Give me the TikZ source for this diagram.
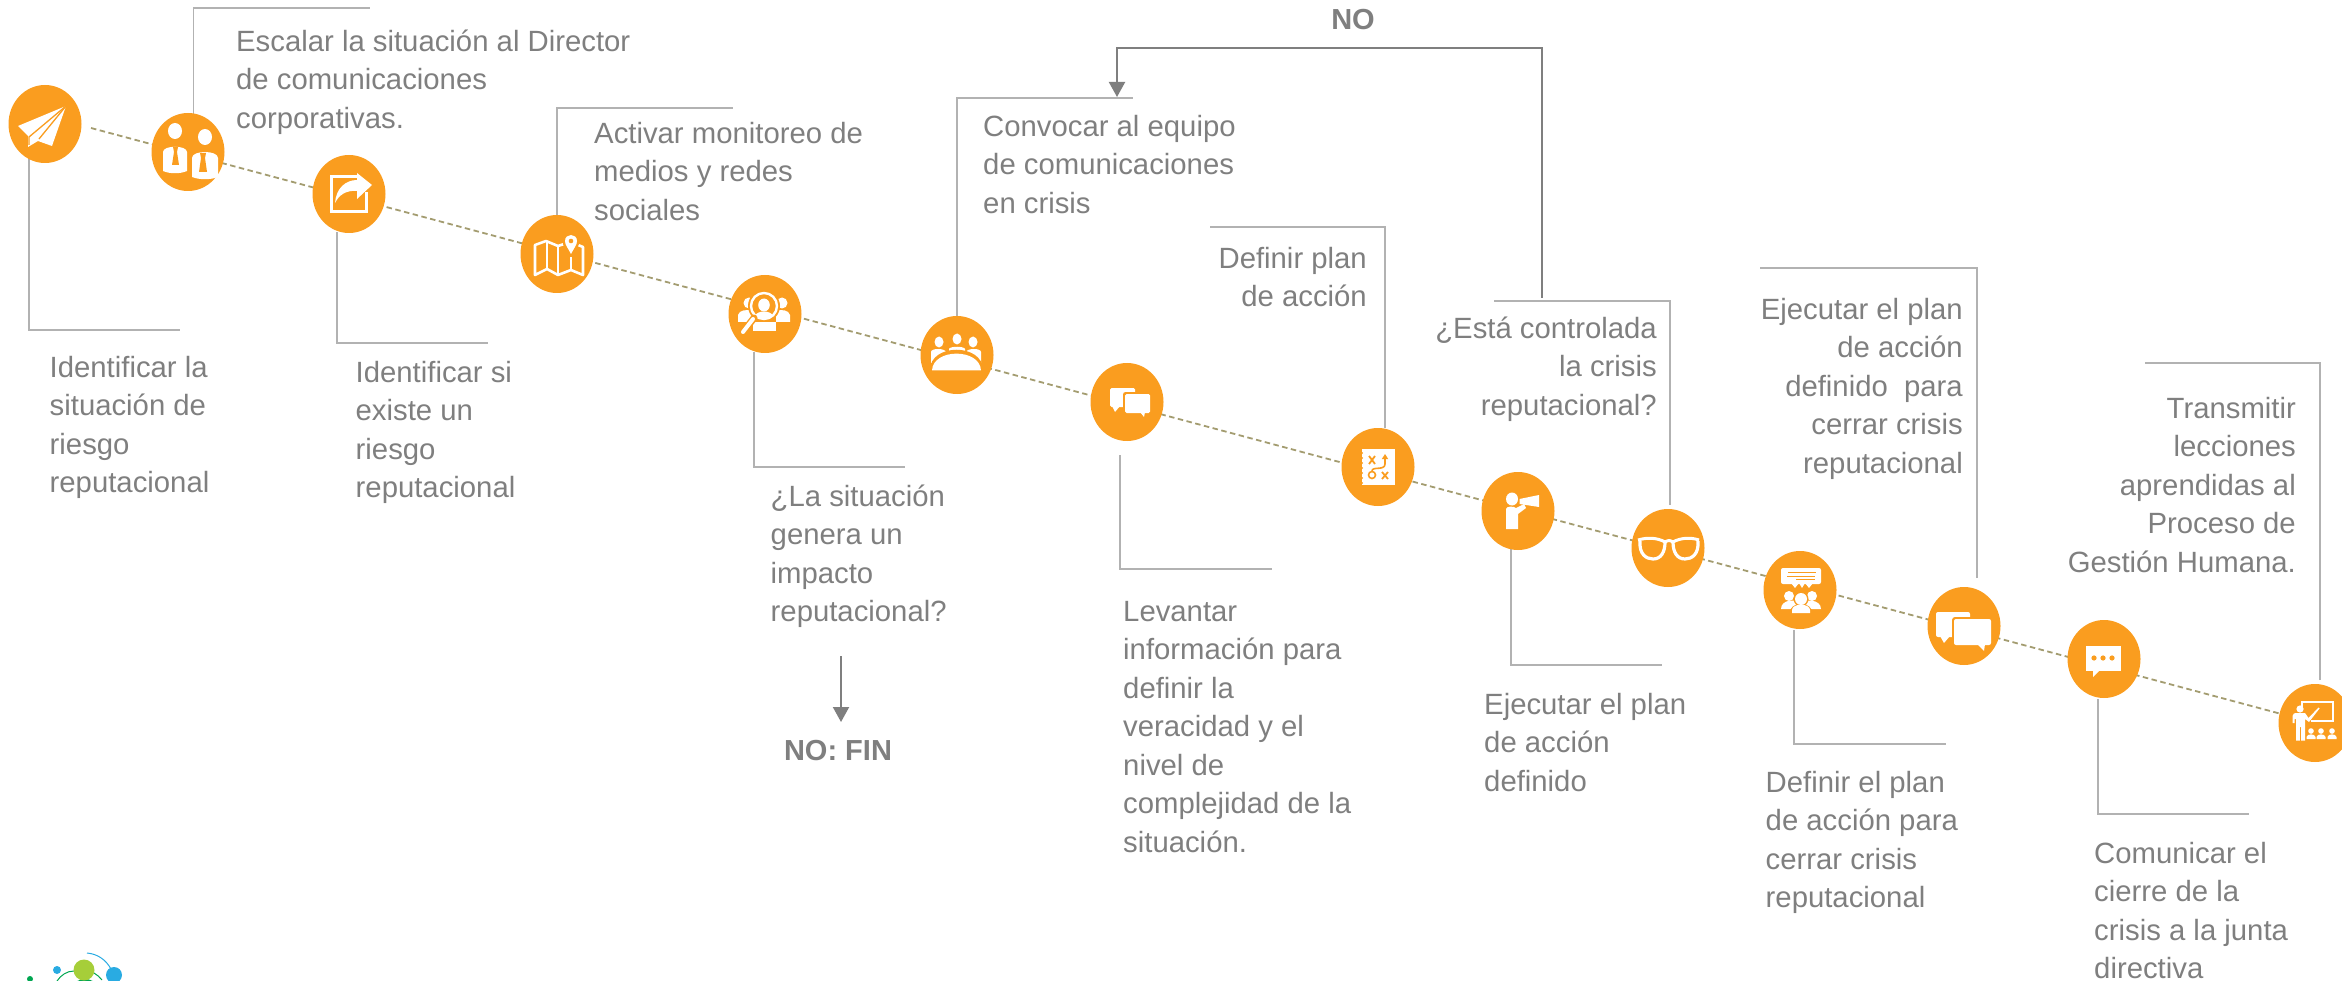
\documentclass[tikz,border=0pt]{standalone}
\usepackage{fontspec}
\setmainfont{Liberation Sans}
\usetikzlibrary{shapes.geometric,arrows.meta,backgrounds}
\definecolor{orng}{HTML}{FA9D1F}
\definecolor{ltext}{HTML}{7F7F7F}
\definecolor{leaderc}{HTML}{B2B2B2}
\definecolor{dashc}{HTML}{A39C70}
\definecolor{arrowc}{HTML}{7F7F7F}
\definecolor{lgreen}{HTML}{A6CE39}
\definecolor{dgreen}{HTML}{00A651}
\definecolor{lblue}{HTML}{29ABE2}
\newcommand\fl{\rule{0pt}{24pt}}
\tikzset{
  stepdot/.style={ellipse,fill=orng,draw=none,minimum width=73pt,minimum height=78pt,inner sep=0pt},
  txt/.style={text=ltext,inner sep=0pt,font=\fontsize{29.3}{38.5}\selectfont},
  txl/.style={txt,anchor=north west,align=left},
  txr/.style={txt,anchor=north east,align=right},
  txb/.style={text=ltext,inner sep=0pt,anchor=base,font=\fontsize{29}{35}\selectfont\bfseries},
  leader/.style={draw=leaderc,line width=1.8pt},
  timeline/.style={draw=dashc,line width=1.8pt,dash pattern=on 5.5pt off 3.5pt},
  backarrow/.style={draw=arrowc,line width=2pt,-{Triangle[length=15pt,width=16pt]}},
  ws/.style={draw=white,fill=none},
  os/.style={draw=orng,fill=none}
}
\begin{document}
\begin{tikzpicture}[x=1pt,y=-1pt]
\useasboundingbox (0,0) rectangle (2342,981);
\clip (0,0) rectangle (2342,981);

% step circles
\node[stepdot] (n1) at (45,124) {};
\node[stepdot] (n2) at (188,152) {};
\node[stepdot] (n3) at (349,194) {};
\node[stepdot] (n4) at (557,254) {};
\node[stepdot] (n5) at (765,314) {};
\node[stepdot] (n6) at (957,355) {};
\node[stepdot] (n7) at (1127,402) {};
\node[stepdot] (n8) at (1378,467) {};
\node[stepdot] (n9) at (1518,511) {};
\node[stepdot] (n10) at (1668,548) {};
\node[stepdot] (n11) at (1800,590) {};
\node[stepdot] (n12) at (1964,626) {};
\node[stepdot] (n13) at (2104,659) {};
\node[stepdot] (n14) at (2315,723) {};

% coordinates for connector free ends
\coordinate (start) at (91,128);
\coordinate (a1) at (29,152);   \coordinate (e1) at (180,330);
\coordinate (a2) at (193.5,115);\coordinate (e2) at (370,8);
\coordinate (a3) at (337,232);  \coordinate (e3) at (488,343);
\coordinate (a4) at (557,215);  \coordinate (e4) at (733,108);
\coordinate (a5) at (754,352);  \coordinate (e5) at (905,467);
\coordinate (a6) at (957,316);  \coordinate (e6) at (1133,98);
\coordinate (a7) at (1120,455); \coordinate (e7) at (1272,569);
\coordinate (a8) at (1385,428); \coordinate (e8) at (1210,227);
\coordinate (a9) at (1511,549); \coordinate (e9) at (1662,665);
\coordinate (a10) at (1670,505);\coordinate (e10) at (1494,301);
\coordinate (a11) at (1794,630);\coordinate (e11) at (1946,744);
\coordinate (a12) at (1977,578);\coordinate (e12) at (1760,268);
\coordinate (a13) at (2098,699);\coordinate (e13) at (2249,814);
\coordinate (a14) at (2320,680);\coordinate (e14) at (2145,363);
\coordinate (noA) at (1542,298);\coordinate (noB) at (1542,48);
\coordinate (noC) at (1117,48); \coordinate (noD) at (1117,97);
\coordinate (finA) at (841,656);\coordinate (finB) at (841,722);

\begin{scope}[on background layer]
  \draw[timeline] (start) -- (n14.center);
  \draw[leader] (a1) |- (e1);
  \draw[leader] (a2) |- (e2);
  \draw[leader] (a3) |- (e3);
  \draw[leader] (a4) |- (e4);
  \draw[leader] (a5) |- (e5);
  \draw[leader] (a6) |- (e6);
  \draw[leader] (a7) |- (e7);
  \draw[leader] (a8) |- (e8);
  \draw[leader] (a9) |- (e9);
  \draw[leader] (a10) |- (e10);
  \draw[leader] (a11) |- (e11);
  \draw[leader] (a12) |- (e12);
  \draw[leader] (a13) |- (e13);
  \draw[leader] (a14) |- (e14);
\end{scope}
\draw[backarrow] (noA) -- (noB) -- (noC) -- (noD);
\draw[backarrow] (finA) -- (finB);

% texts
\node[txl] (t1) at (49.5,353) {\fl Identificar la\\situación de\\riesgo\\reputacional};
\node[txl] (t2) at (236,27) {\fl Escalar la situación al Director\\de comunicaciones\\corporativas.};
\node[txl] (t3) at (355.5,358) {\fl Identificar si\\existe un\\riesgo\\reputacional};
\node[txl] (t4) at (594,119) {\fl Activar monitoreo de\\medios y redes\\sociales};
\node[txl] (t5) at (770.5,482) {\fl ¿La situación\\genera un\\impacto\\reputacional?};
\node[txl] (t6) at (983,112) {\fl Convocar al equipo\\de comunicaciones\\en crisis};
\node[txr] (t7) at (1367,244) {\fl Definir plan\\de acción};
\node[txl] (t8) at (1123,597) {\fl Levantar\\información para\\definir la\\veracidad y el\\nivel de\\complejidad de la\\situación.};
\node[txr] (t9) at (1657,314) {\fl ¿Está controlada\\la crisis\\reputacional?};
\node[txl] (t10) at (1484,690) {\fl Ejecutar el plan\\de acción\\definido};
\node[txr] (t11) at (1963,295) {\fl Ejecutar el plan\\de acción\\definido\ \ para\\cerrar crisis\\reputacional};
\node[txl] (t12) at (1765.5,768) {\fl Definir el plan\\de acción para\\cerrar crisis\\reputacional};
\node[txl] (t13) at (2094,839) {\fl Comunicar el\\cierre de la\\crisis a la junta\\directiva};
\node[txr] (t14) at (2296,394) {\fl Transmitir\\lecciones\\aprendidas al\\Proceso de\\Gestión Humana.};
\node[txb] (tno) at (1353,30) {NO};
\node[txb] (tfin) at (838,760) {NO: FIN};

% icon 1: paper plane
\begin{scope}[shift={(n1.center)}]
  \fill[white] (21,-18) -- (-27,2) -- (-17,12) -- (-17,23) -- (-7,17) -- (7,22) -- cycle;
  \draw[os,line width=1.3pt] (21,-18) -- (-16,13) -- (-16,21);
  \draw[os,line width=1.3pt] (21,-18) -- (-6,15);
\end{scope}
% icon 2: two people with ties
\begin{scope}[shift={(n2.center)}]
  \fill[white] (-13,-21) ellipse[x radius=7,y radius=8];
  \fill[white] (-25,19) -- (-25,0) .. controls (-25,-7) and (-1,-7) .. (-1,0) -- (-1,19) .. controls (-8,22) and (-18,22) .. (-25,19) -- cycle;
  \fill[orng] (-15,-5) -- (-10,-5) -- (-11,0) -- (-9,13) -- (-16,13) -- (-14,0) -- cycle;
  \fill[white] (17,-15) ellipse[x radius=7,y radius=8];
  \fill[white] (4,25) -- (4,6) .. controls (4,-2) and (30,-2) .. (30,6) -- (30,25) .. controls (22,28) and (12,28) .. (4,25) -- cycle;
  \fill[orng] (12,1) -- (18,1) -- (17,6) -- (19,20) -- (11,20) -- (13,6) -- cycle;
\end{scope}
% icon 3: share
\begin{scope}[shift={(n3.center)}]
  \draw[ws,line width=3pt] (8,-17.5) -- (-18,-17.5) -- (-18,18) -- (17,18) -- (17,-2);
  \fill[white] (8,-21) -- (23,-9) -- (8,5) -- (8,-3) .. controls (-3,-4) and (-10,1) .. (-14,9) .. controls (-13,-6) and (-3,-14) .. (8,-14) -- cycle;
\end{scope}
% icon 4: map with pin
\begin{scope}[shift={(n4.center)}]
  \draw[ws,line width=2.6pt,line join=round] (7,-10) -- (1,-8) -- (-11,-13) -- (-22,-9) -- (-22,21) -- (-10,15) -- (1,21) -- (14,16) -- (26,21) -- (26,-7) -- (21,-9);
  \draw[ws,line width=2.6pt] (-10,-13) -- (-10,15) (1,-8) -- (1,21) (14,3) -- (14,16);
  \fill[orng] (14,3) .. controls (9,-5) and (5.5,-8) .. (5.5,-13) .. controls (5.5,-24) and (22.5,-24) .. (22.5,-13) .. controls (22.5,-8) and (19,-5) .. (14,3) -- cycle;
  \fill[white] (14,0) .. controls (11,-6) and (8,-9) .. (8,-13) .. controls (8,-21) and (20,-21) .. (20,-13) .. controls (20,-9) and (17,-6) .. (14,0) -- cycle;
  \fill[orng] (14,-13) circle[radius=2.3];
\end{scope}
% icon 5: magnifier over people
\begin{scope}[shift={(n5.center)}]
  \fill[white] (-16,-11) circle[radius=5.5];
  \fill[white] (17,-11) circle[radius=5.5];
  \fill[white] (-27,8) -- (-27,1) .. controls (-26,-4) and (-18,-5) .. (-12,-3) -- (-12,8) -- cycle;
  \fill[white] (25,8) -- (25,1) .. controls (24,-4) and (16,-5) .. (11,-3) -- (11,8) -- cycle;
  \fill[white] (-12,17) -- (-12,8) -- (11,8) -- (11,17) -- cycle;
  \fill[orng] (-1,-8) circle[radius=16];
  \draw[ws,line width=2.4pt] (-1,-8) circle[radius=13];
  \fill[white] (-1,-9) ellipse[x radius=5.8,y radius=6.5];
  \fill[white] (-10,2) .. controls (-8,-4) and (6,-4) .. (8,2) .. controls (4,6) and (-6,6) .. (-10,2) -- cycle;
  \draw[orng,line width=7pt,line cap=round] (-11,4) -- (-22,18);
  \draw[ws,line width=4pt,line cap=round] (-12,5) -- (-22,18);
\end{scope}
% icon 6: meeting around a table
\begin{scope}[shift={(n6.center)}]
  \fill[white] (-18,-13) ellipse[x radius=4.5,y radius=5.5];
  \fill[white] (0,-16) ellipse[x radius=4.5,y radius=5.5];
  \fill[white] (16,-13) ellipse[x radius=4.5,y radius=5.5];
  \fill[white] (-26,8) -- (-26,-3) .. controls (-26,-7) and (-12,-7) .. (-11,-3) -- (-11,3) -- cycle;
  \fill[white] (-8,-2) -- (-8,-6) .. controls (-7,-9) and (7,-9) .. (8,-6) -- (8,-2) -- cycle;
  \fill[white] (24,8) -- (24,-3) .. controls (24,-7) and (10,-7) .. (9,-3) -- (9,3) -- cycle;
  \fill[orng] (-27,15) .. controls (-27,-12) and (26,-12) .. (26,15) -- cycle;
  \fill[white] (-25,15.5) .. controls (-24,-7) and (23,-7) .. (24,15.5) -- cycle;
\end{scope}
% icon 7: speech bubbles
\begin{scope}[shift={(n7.center)}]
  \fill[white,rounded corners=1.5pt] (-17,-14) rectangle (8,5);
  \fill[white] (-15,4) -- (-12,10) -- (-7,4) -- cycle;
  \fill[orng,rounded corners=2.5pt] (-4,-10) rectangle (25,13);
  \fill[white,rounded corners=1.5pt] (-2,-8) rectangle (23,11);
  \fill[white] (13,10) -- (17,15) -- (18,10) -- cycle;
\end{scope}
% icon 8: tactics board
\begin{scope}[shift={(n8.center)}]
  \fill[white] (-16,-18) rectangle (17,18);
  \foreach \yy in {-14,-9,-4,1,6,11,16}{\fill[orng] (-16,\yy) circle[radius=1];}
  \draw[os,line width=1.8pt] (-9,-11) -- (-3,-3) (-3,-11) -- (-9,-3);
  \draw[os,line width=1.8pt] (4,5) -- (10,12) (10,5) -- (4,12);
  \draw[os,line width=1.6pt] (-6,8) circle[radius=3.5];
  \draw[os,line width=1.6pt,-{Triangle[length=5pt,width=6pt]}] (-6,4) .. controls (-6,-1) and (7,4) .. (7,-3) -- (7,-13);
\end{scope}
% icon 9: person with megaphone
\begin{scope}[shift={(n9.center)}]
  \fill[white] (-6,-12) ellipse[x radius=6,y radius=6.5];
  \fill[white] (-12,18) -- (-12,-2) .. controls (-12,-5) and (-4,-5) .. (-2,-3) -- (6,-7) -- (8,-3) -- (0,3) -- (0,18) -- cycle;
  \fill[white] (1.5,-12) -- (21,-16) -- (21,-4) -- (1.5,-7) -- cycle;
\end{scope}
% icon 10: glasses
\begin{scope}[shift={(n10.center)}]
  \draw[ws,line width=3pt,line join=round] (-30,-8) .. controls (-20,-11) and (-10,-10) .. (-3,-6) .. controls (1,-8) and (1,-8) .. (5,-6) .. controls (12,-10) and (22,-11) .. (31,-8);
  \draw[ws,line width=3.2pt] (-28,-7) .. controls (-29,6) and (-22,11) .. (-15,11) .. controls (-7,11) and (-3,4) .. (-3,-6);
  \draw[ws,line width=3.2pt] (5,-6) .. controls (5,4) and (9,11) .. (17,11) .. controls (24,11) and (31,6) .. (30,-7);
\end{scope}
% icon 11: presentation to a group
\begin{scope}[shift={(n11.center)}]
  \fill[white,rounded corners=2pt] (-19,-22) rectangle (21,-6);
  \fill[white] (-9,-7) -- (-5,-2) -- (-1,-7) -- cycle;
  \fill[white] (-1,-7) -- (2,-2) -- (5,-7) -- cycle;
  \fill[white] (5,-7) -- (9,-2) -- (13,-7) -- cycle;
  \draw[os,line width=1.2pt] (-12,-17.5) -- (16,-17.5) (-13,-13.5) -- (15,-13.5);
  \draw[os,line width=1.6pt] (-4,-10.5) -- (15,-10.5);
  \fill[white] (-11,6) circle[radius=5];
  \fill[white] (12,6) circle[radius=5];
  \fill[white] (-19,19) .. controls (-19,9) and (-3,9) .. (-2,13) -- (-8,19) -- cycle;
  \fill[white] (21,19) .. controls (21,9) and (4,9) .. (3,13) -- (9,19) -- cycle;
  \fill[orng] (1,9) circle[radius=7.5];
  \fill[orng] (-11,25) .. controls (-11,10) and (13,10) .. (13,25) -- cycle;
  \fill[white] (1,9) circle[radius=6];
  \fill[white] (-8,23) -- (-8,20) .. controls (-8,13) and (10,13) .. (10,20) -- (10,23) -- cycle;
\end{scope}
% icon 12: large speech bubbles
\begin{scope}[shift={(n12.center)}]
  \fill[white,rounded corners=2pt] (-28,-14) rectangle (6,11);
  \fill[white] (-24,10) -- (-20,17) -- (-14,10) -- cycle;
  \fill[orng,rounded corners=3pt] (-12,-9) rectangle (29,21);
  \fill[white,rounded corners=2pt] (-10,-7) rectangle (27,19);
  \fill[white] (13,18) -- (20,25) -- (21,18) -- cycle;
\end{scope}
% icon 13: speech bubble with dots
\begin{scope}[shift={(n13.center)}]
  \fill[white] (-18,-13) rectangle (17,12);
  \fill[white] (-11,11) -- (-11,18) -- (-4,11) -- cycle;
  \fill[orng] (-10,-1) circle[radius=2.6];
  \fill[orng] (-1,-1) circle[radius=2.6];
  \fill[orng] (8,-1) circle[radius=2.6];
\end{scope}
% icon 14: teacher and audience
\begin{scope}[shift={(n14.center)}]
  \draw[ws,line width=1.8pt] (-13,-16) -- (-13,-21) -- (18,-21) -- (18,-2) -- (-4,-2);
  \fill[white] (-15,-14) circle[radius=3.6];
  \fill[white] (-22.5,0) -- (-22.5,-7) .. controls (-22.5,-10) and (-20,-10) .. (-18,-10) -- (-10,-10) -- (-6.5,-5) -- (3.5,-15.5) -- (4.5,-14.5) -- (-6,-1) -- (-10,-4) -- (-10,17.5) -- (-14,17.5) -- (-14,4) -- (-15.2,4) -- (-15.2,17.5) -- (-19,17.5) -- (-19,-4) -- (-20.5,-4) -- (-20.5,0) -- cycle;
  \foreach \xx in {-4,6,17}{
    \fill[white] (\xx,8) circle[radius=2.8];
    \fill[white] (\xx-4.5,16) -- (\xx-4.5,14) .. controls (\xx-4,10.5) and (\xx+4,10.5) .. (\xx+4.5,14) -- (\xx+4.5,16) -- cycle;
  }
\end{scope}

% logo, cut by the lower edge
\fill[dgreen] (30,979) circle[radius=3];
\fill[lblue] (57,970) circle[radius=4];
\draw[lblue,line width=1pt] (87,953) .. controls (98,954) and (106,960) .. (111,969);
\draw[dgreen,line width=1pt] (57,981) .. controls (61,975) and (67,971) .. (74,971);
\draw[dgreen,line width=1pt] (94,973) .. controls (97,975) and (100,977) .. (102,980);
\fill[dgreen] (85,986) ellipse[x radius=11,y radius=7];
\fill[lgreen] (84,970) circle[radius=10.5];
\fill[lblue] (114,975) circle[radius=8];
\end{tikzpicture}
\end{document}
